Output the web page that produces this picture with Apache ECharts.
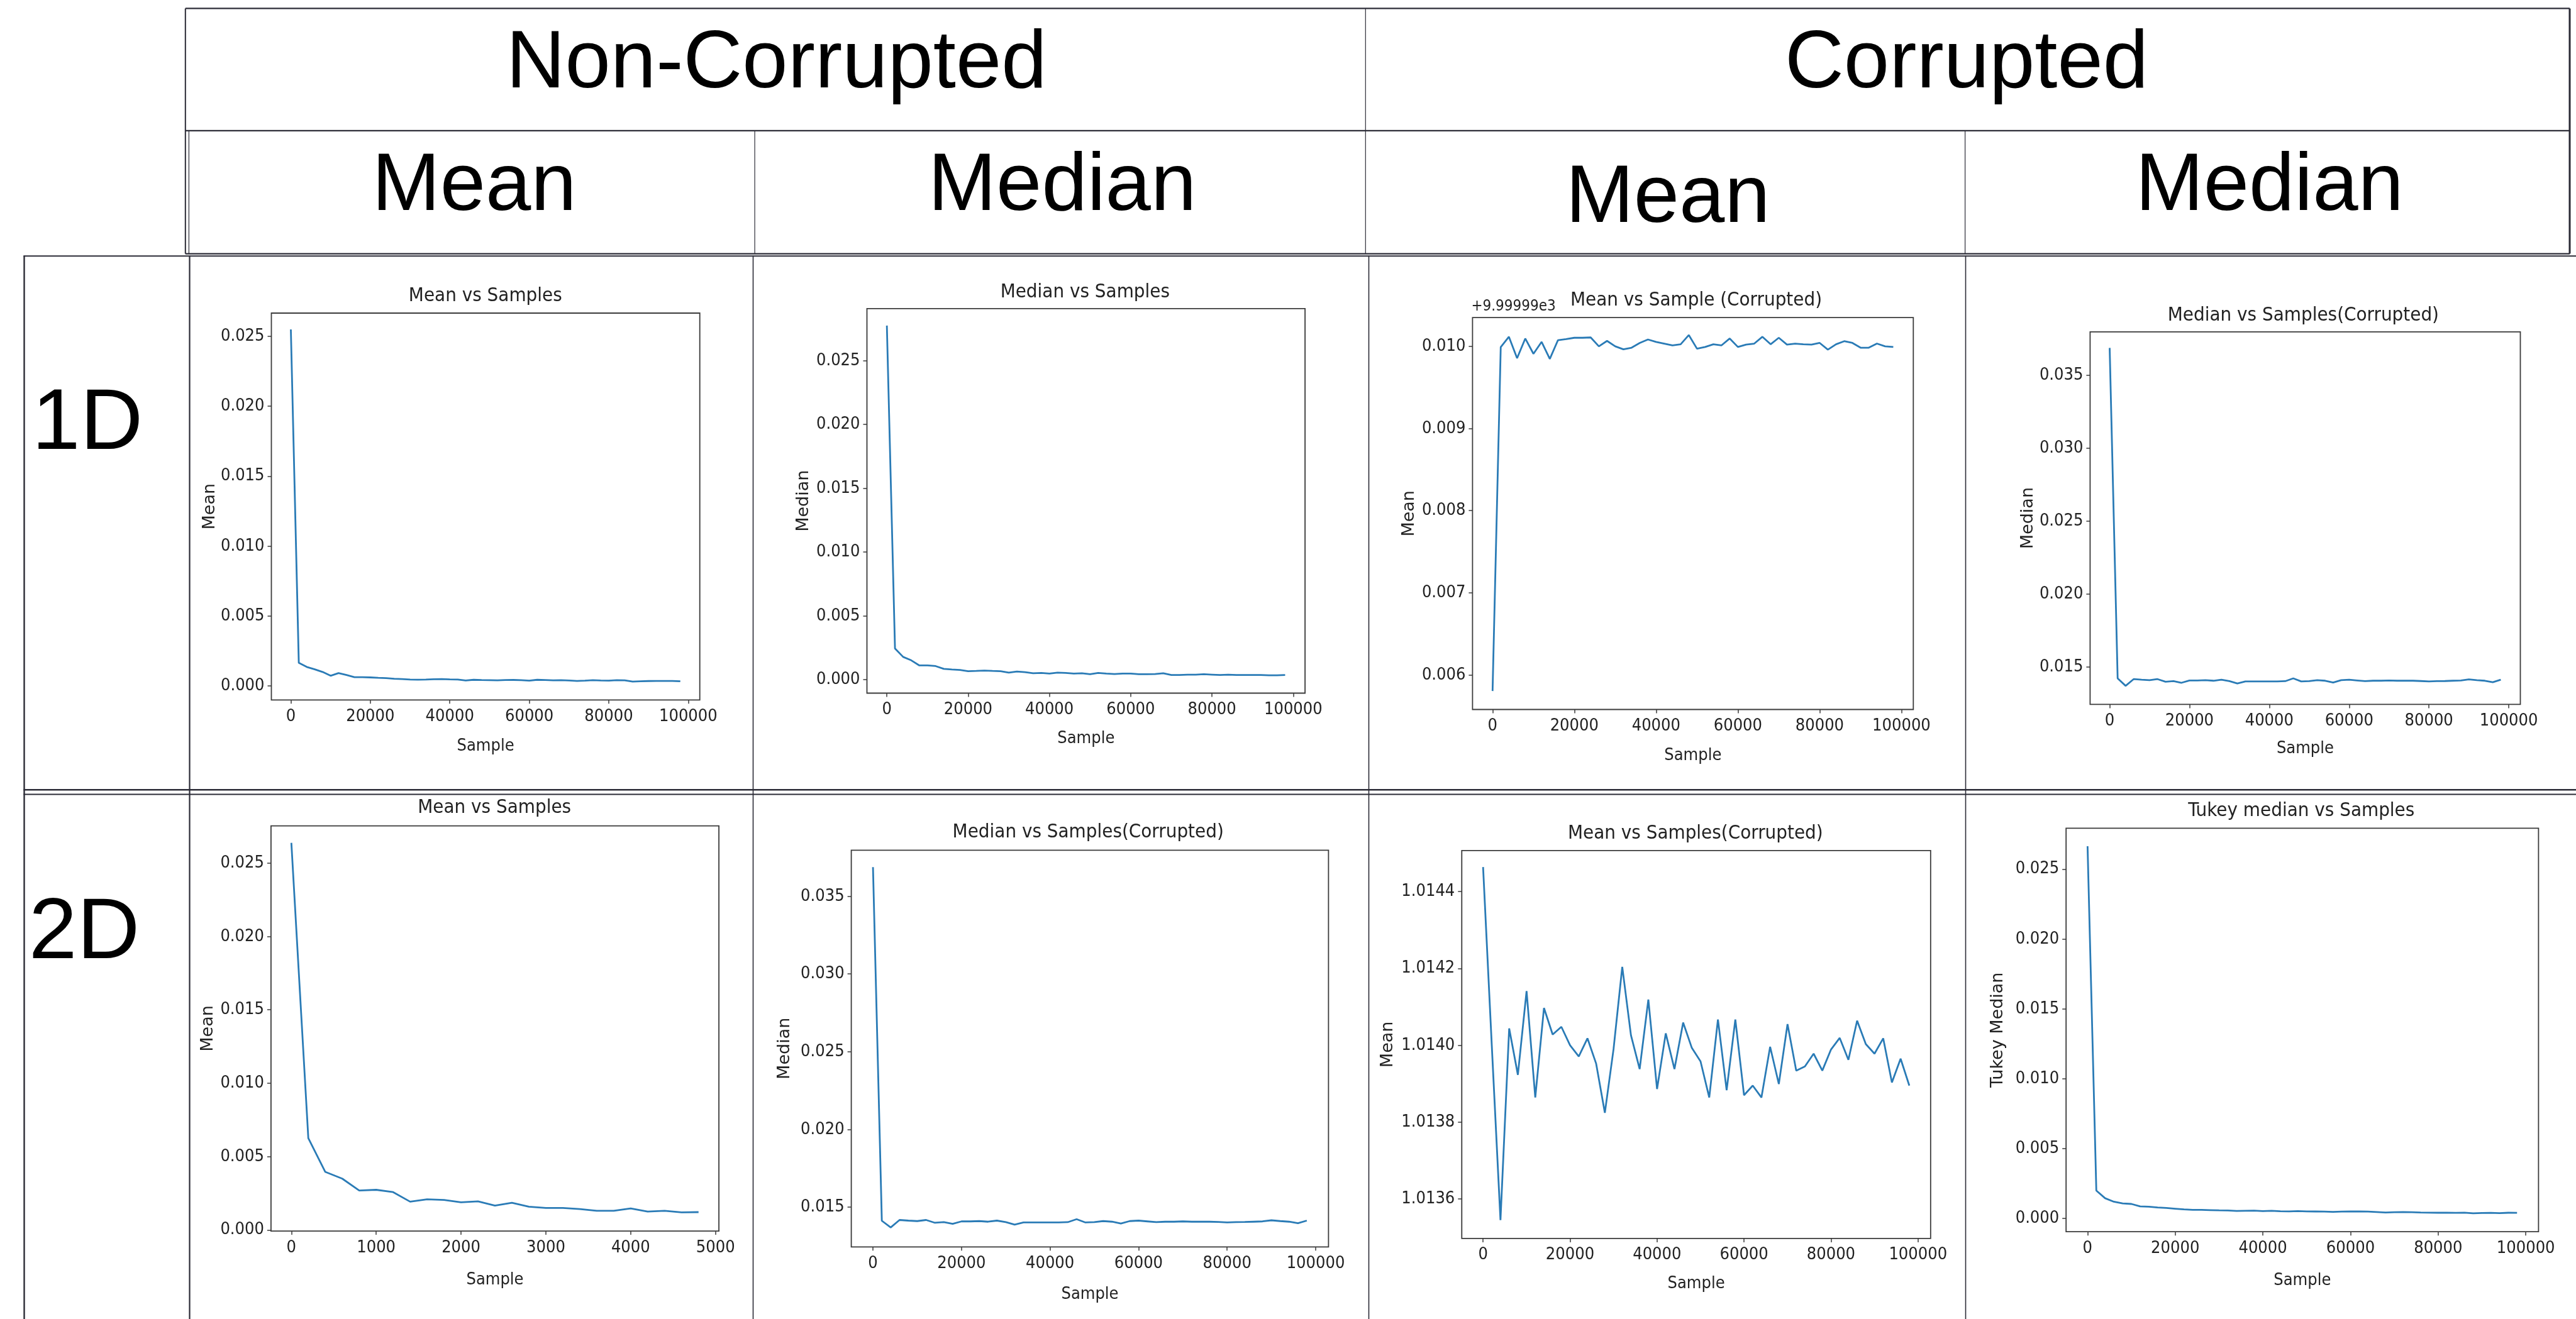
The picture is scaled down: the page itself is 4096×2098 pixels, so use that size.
<!DOCTYPE html>
<html>
<head>
<meta charset="utf-8">
<title>Mean / Median vs Samples</title>
<script src="https://cdn.jsdelivr.net/npm/echarts@6/dist/echarts.min.js"></script>
<style>
  html, body { margin: 0; padding: 0; background: #fff; }
  #chart { width: 4096px; height: 2098px; }
</style>
</head>
<body>
<div id="chart"></div>
<script>
// table headers
const groupLabels = ["Non-Corrupted", "Corrupted"];
const statLabels = ["Mean", "Median", "Mean", "Median"];
const rowLabels = ["1D", "2D"];

// x values (number of samples)
const samples100k = [0, 2000, 4000, 6000, 8000, 10000, 12000, 14000, 16000, 18000,
  20000, 22000, 24000, 26000, 28000, 30000, 32000, 34000, 36000, 38000,
  40000, 42000, 44000, 46000, 48000, 50000, 52000, 54000, 56000, 58000,
  60000, 62000, 64000, 66000, 68000, 70000, 72000, 74000, 76000, 78000,
  80000, 82000, 84000, 86000, 88000, 90000, 92000, 94000, 96000, 98000];
const samples5k = [0, 200, 400, 600, 800, 1000, 1200, 1400, 1600, 1800,
  2000, 2200, 2400, 2600, 2800, 3000, 3200, 3400, 3600, 3800,
  4000, 4200, 4400, 4600, 4800];

// tick labels
const xTicks100k = [0, 20000, 40000, 60000, 80000, 100000];
const xTicks5k = [0, 1000, 2000, 3000, 4000, 5000];
const yTicksSmall = [0, 0.005, 0.010, 0.015, 0.020, 0.025];
const yTicksCorrMedian = [0.015, 0.020, 0.025, 0.030, 0.035];
const yTicksCorrMean1d = [0.006, 0.007, 0.008, 0.009, 0.010];
const yTicksCorrMean2d = [1.0136, 1.0138, 1.0140, 1.0142, 1.0144];

// 1D, non-corrupted
const mean1d = [0.02549, 0.00165, 0.00136, 0.00119, 0.00100, 0.00073, 0.00092, 0.00078, 0.00063, 0.00063,
  0.00061, 0.00058, 0.00056, 0.00051, 0.00049, 0.00046, 0.00045, 0.00046, 0.00048, 0.00049,
  0.00047, 0.00046, 0.00039, 0.00044, 0.00042, 0.00041, 0.00040, 0.00042, 0.00043, 0.00041,
  0.00038, 0.00044, 0.00042, 0.00040, 0.00041, 0.00039, 0.00036, 0.00038, 0.00041, 0.00039,
  0.00038, 0.00041, 0.00040, 0.00031, 0.00033, 0.00035, 0.00036, 0.00036, 0.00036, 0.00033];
const median1d = [0.02775, 0.00245, 0.00179, 0.00152, 0.00112, 0.00112, 0.00107, 0.00085, 0.00080, 0.00077,
  0.00067, 0.00069, 0.00072, 0.00069, 0.00067, 0.00056, 0.00064, 0.00059, 0.00051, 0.00053,
  0.00048, 0.00056, 0.00053, 0.00048, 0.00051, 0.00043, 0.00053, 0.00048, 0.00045, 0.00048,
  0.00048, 0.00043, 0.00043, 0.00045, 0.00051, 0.00037, 0.00037, 0.00040, 0.00040, 0.00043,
  0.00040, 0.00037, 0.00040, 0.00037, 0.00037, 0.00037, 0.00037, 0.00035, 0.00035, 0.00037];

// 1D, corrupted (mean shown relative to the +9.99999e3 offset)
const meanCorr1d = [0.005805, 0.009990, 0.010116, 0.009855, 0.010095, 0.009909, 0.010054, 0.009847, 0.010075, 0.010087,
  0.010104, 0.010104, 0.010108, 0.010000, 0.010066, 0.010000, 0.009963, 0.009983, 0.010041, 0.010083,
  0.010054, 0.010033, 0.010012, 0.010025, 0.010137, 0.009971, 0.009992, 0.010025, 0.010012, 0.010095,
  0.009992, 0.010021, 0.010033, 0.010116, 0.010025, 0.010104, 0.010021, 0.010033, 0.010025, 0.010021,
  0.010041, 0.009959, 0.010025, 0.010062, 0.010041, 0.009983, 0.009983, 0.010033, 0.010000, 0.009992];
const medianCorr1d = [0.03686, 0.01423, 0.01372, 0.01418, 0.01414, 0.01411, 0.01418, 0.01400, 0.01404, 0.01393,
  0.01409, 0.01409, 0.01411, 0.01407, 0.01414, 0.01404, 0.01388, 0.01402, 0.01402, 0.01402,
  0.01402, 0.01402, 0.01404, 0.01423, 0.01402, 0.01404, 0.01411, 0.01407, 0.01395, 0.01411,
  0.01414, 0.01409, 0.01404, 0.01407, 0.01407, 0.01409, 0.01407, 0.01407, 0.01407, 0.01405,
  0.01402, 0.01404, 0.01405, 0.01407, 0.01409, 0.01416, 0.01411, 0.01407, 0.01397, 0.01414];

// 2D
const mean2d = [0.02638, 0.00626, 0.00396, 0.00350, 0.00269, 0.00274, 0.00258, 0.00193, 0.00209, 0.00205,
  0.00189, 0.00195, 0.00166, 0.00186, 0.00159, 0.00150, 0.00150, 0.00143, 0.00131, 0.00131,
  0.00147, 0.00126, 0.00131, 0.00120, 0.00122];
const medianCorr2d = [0.03687, 0.01413, 0.01370, 0.01418, 0.01414, 0.01411, 0.01418, 0.01400, 0.01404, 0.01393,
  0.01409, 0.01409, 0.01411, 0.01407, 0.01414, 0.01404, 0.01388, 0.01402, 0.01402, 0.01402,
  0.01402, 0.01402, 0.01404, 0.01423, 0.01402, 0.01404, 0.01411, 0.01407, 0.01395, 0.01411,
  0.01414, 0.01409, 0.01404, 0.01407, 0.01407, 0.01409, 0.01407, 0.01407, 0.01407, 0.01405,
  0.01402, 0.01404, 0.01405, 0.01407, 0.01409, 0.01416, 0.01411, 0.01407, 0.01397, 0.01414];
const meanCorr2d = [1.014464, 1.014000, 1.013545, 1.014044, 1.013923, 1.014141, 1.013864, 1.014097, 1.014028, 1.014048,
  1.014000, 1.013971, 1.014018, 1.013952, 1.013824, 1.013990, 1.014204, 1.014026, 1.013938, 1.014119,
  1.013886, 1.014031, 1.013938, 1.014059, 1.013993, 1.013958, 1.013864, 1.014067, 1.013883, 1.014067,
  1.013870, 1.013895, 1.013864, 1.013996, 1.013899, 1.014055, 1.013934, 1.013945, 1.013978, 1.013934,
  1.013989, 1.014019, 1.013962, 1.014064, 1.014003, 1.013978, 1.014018, 1.013903, 1.013965, 1.013895];
const tukey2d = [0.02664, 0.00198, 0.00143, 0.00118, 0.00106, 0.00102, 0.00085, 0.00082, 0.00077, 0.00073,
  0.00068, 0.00063, 0.00060, 0.00060, 0.00058, 0.00056, 0.00055, 0.00052, 0.00053, 0.00054,
  0.00051, 0.00053, 0.00050, 0.00049, 0.00051, 0.00049, 0.00048, 0.00047, 0.00045, 0.00047,
  0.00048, 0.00049, 0.00047, 0.00044, 0.00041, 0.00043, 0.00044, 0.00043, 0.00041, 0.00040,
  0.00039, 0.00040, 0.00038, 0.00040, 0.00035, 0.00037, 0.00038, 0.00036, 0.00039, 0.00038];

const FONT_NARROW = '"DejaVu Sans Condensed", "Liberation Sans Narrow", "DejaVu Sans", sans-serif';
const FONT_PLOT = '"DejaVu Sans", sans-serif';
const FONT_TABLE = '"Liberation Sans", Arial, sans-serif';
const LINE_COLOR = "#2a7bb6";
const INK = "#222";

// one small matplotlib-like plot per table cell
const panels = [
  { title: "Mean vs Samples", yName: "Mean", xs: samples100k, ys: mean1d, xTicks: xTicks100k, xMin: -4900, xMax: 102900,
    yTicks: yTicksSmall, yMin: -0.001, yMax: 0.02666, digits: 3,
    box: [431.5, 498.0, 1112.7, 1113.3], titlePos: [771.8, 471], yLabelX: 334, xLabelY: 1187 },
  { title: "Median vs Samples", yName: "Median", xs: samples100k, ys: median1d, xTicks: xTicks100k, xMin: -4900, xMax: 102900,
    yTicks: yTicksSmall, yMin: -0.00105, yMax: 0.02908, digits: 3,
    box: [1378.5, 490.9, 2075.1, 1102.5], titlePos: [1725.3, 464.5], yLabelX: 1278, xLabelY: 1174.5 },
  { title: "Mean vs Sample (Corrupted)", yName: "Mean", xs: samples100k, ys: meanCorr1d, xTicks: xTicks100k, xMin: -4900, xMax: 102900,
    yTicks: yTicksCorrMean1d, yMin: 0.00558, yMax: 0.01035, digits: 3, offsetText: "+9.99999e3",
    box: [2341.4, 505.1, 3042.3, 1128.5], titlePos: [2697, 478], yLabelX: 2241, xLabelY: 1201.5 },
  { title: "Median vs Samples(Corrupted)", yName: "Median", xs: samples100k, ys: medianCorr1d, xTicks: xTicks100k, xMin: -4900, xMax: 102900,
    yTicks: yTicksCorrMedian, yMin: 0.01245, yMax: 0.03796, digits: 3,
    box: [3323.4, 527.8, 4007.5, 1120.4], titlePos: [3662.4, 502.3], yLabelX: 3224.6, xLabelY: 1190.7 },
  { title: "Mean vs Samples", yName: "Mean", xs: samples5k, ys: mean2d, xTicks: xTicks5k, xMin: -240, xMax: 5040,
    yTicks: yTicksSmall, yMin: -0.00007, yMax: 0.02753, digits: 3,
    box: [430.9, 1313.7, 1143.1, 1958.1], titlePos: [786.2, 1285.2], yLabelX: 331.2, xLabelY: 2035.9 },
  { title: "Median vs Samples(Corrupted)", yName: "Median", xs: samples100k, ys: medianCorr2d, xTicks: xTicks100k, xMin: -4900, xMax: 102900,
    yTicks: yTicksCorrMedian, yMin: 0.01245, yMax: 0.03796, digits: 3,
    box: [1353.6, 1352.3, 2112.4, 1983.3], titlePos: [1730.2, 1324.4], yLabelX: 1247.8, xLabelY: 2058.5 },
  { title: "Mean vs Samples(Corrupted)", yName: "Mean", xs: samples100k, ys: meanCorr2d, xTicks: xTicks100k, xMin: -4900, xMax: 102900,
    yTicks: yTicksCorrMean2d, yMin: 1.013497, yMax: 1.014507, digits: 4,
    box: [2324.3, 1352.8, 3069.8, 1969.9], titlePos: [2695.8, 1326], yLabelX: 2207.4, xLabelY: 2042.4 },
  { title: "Tukey median vs Samples", yName: "Tukey Median", xs: samples100k, ys: tukey2d, xTicks: xTicks100k, xMin: -4900, xMax: 102900,
    yTicks: yTicksSmall, yMin: -0.00097, yMax: 0.02793, digits: 3,
    box: [3285.2, 1317.4, 4036.4, 1959.2], titlePos: [3659.3, 1289.5], yLabelX: 3176.6, xLabelY: 2037 },
];

const grids = [], xAxes = [], yAxes = [], series = [], graphics = [];

panels.forEach((p, i) => {
  const [l, t, r, b] = p.box;
  grids.push({
    left: l, top: t, width: r - l, height: b - t,
    show: true, borderColor: "#3a3a3a", borderWidth: 1.8, containLabel: false,
  });
  xAxes.push({
    type: "value", gridIndex: i, min: p.xMin, max: p.xMax,
    axisLine: { show: false, onZero: false },
    axisTick: { show: true, inside: false, length: 6, customValues: p.xTicks, lineStyle: { color: "#3a3a3a", width: 1.5 } },
    axisLabel: { customValues: p.xTicks, margin: 13, color: INK, fontSize: 27, fontFamily: FONT_NARROW,
      formatter: (v) => String(Math.round(v)) },
    splitLine: { show: false },
  });
  yAxes.push({
    type: "value", gridIndex: i, min: p.yMin, max: p.yMax,
    axisLine: { show: false, onZero: false },
    axisTick: { show: true, inside: false, length: 6, customValues: p.yTicks, lineStyle: { color: "#3a3a3a", width: 1.5 } },
    axisLabel: { customValues: p.yTicks, margin: 11, color: INK, fontSize: 27, fontFamily: FONT_NARROW,
      formatter: (v) => v.toFixed(p.digits) },
    splitLine: { show: false },
  });
  series.push({
    type: "line", xAxisIndex: i, yAxisIndex: i,
    data: p.xs.map((x, k) => [x, p.ys[k]]),
    showSymbol: false, smooth: false,
    lineStyle: { color: LINE_COLOR, width: 2.8 },
    animation: false,
  });
  // title, axis names
  graphics.push({
    type: "text", x: p.titlePos[0], y: p.titlePos[1],
    style: { text: p.title, fill: INK, fontSize: 31, fontFamily: FONT_NARROW, align: "center", verticalAlign: "middle" },
  });
  graphics.push({
    type: "text", x: (l + r) / 2, y: p.xLabelY,
    style: { text: "Sample", fill: INK, fontSize: 27, fontFamily: FONT_NARROW, align: "center", verticalAlign: "middle" },
  });
  graphics.push({
    type: "text", x: p.yLabelX, y: (t + b) / 2, rotation: Math.PI / 2,
    style: { text: p.yName, fill: INK, fontSize: 27, fontFamily: FONT_PLOT, align: "center", verticalAlign: "middle" },
  });
  if (p.offsetText) {
    graphics.push({
      type: "text", x: l - 2, y: t - 17,
      style: { text: p.offsetText, fill: INK, fontSize: 24, fontFamily: FONT_NARROW, align: "left", verticalAlign: "middle" },
    });
  }
});

// table frame
const TABLE_INK = "#2b2b36";
const hLine = (y, x1, x2, w) => ({ type: "line", shape: { x1, y1: y, x2, y2: y }, style: { stroke: TABLE_INK, lineWidth: w }, silent: true });
const vLine = (x, y1, y2, w) => ({ type: "line", shape: { x1: x, y1, x2: x, y2 }, style: { stroke: TABLE_INK, lineWidth: w }, silent: true });

graphics.push(
  hLine(13.4, 294.8, 4086, 2.4),
  hLine(207.9, 294.8, 4086, 2.4),
  hLine(403.6, 294.8, 4086, 2.4),
  vLine(294.8, 13.4, 403.6, 2),
  vLine(4086, 13.4, 403.6, 3),
  vLine(2171.3, 13.4, 207.9, 1.2),
  vLine(300.4, 207.9, 403.6, 1.2),
  vLine(1200.1, 207.9, 403.6, 1.2),
  vLine(2171.3, 207.9, 403.6, 1.2),
  vLine(3124.6, 207.9, 403.6, 1.2),
  hLine(407.3, 37.4, 4096, 2),
  hLine(1256.2, 37.4, 4096, 2.4),
  hLine(1263.5, 37.4, 4096, 2),
  vLine(38.5, 406.8, 2098, 2.4),
  vLine(301.5, 406.8, 2098, 2.2),
  vLine(1197.5, 406.8, 2098, 1.6),
  vLine(2176.5, 406.8, 2098, 1.6),
  vLine(3125.5, 406.8, 2098, 1.6)
);

// header texts
const headerText = (text, x, y, size) => ({
  type: "text", x, y,
  style: { text, fill: "#000", fontSize: size, fontFamily: FONT_TABLE, align: "center", verticalAlign: "middle" },
});
graphics.push(
  headerText(groupLabels[0], 1234.6, 103, 130),
  headerText(groupLabels[1], 3127, 103, 130),
  headerText(statLabels[0], 754, 298, 130),
  headerText(statLabels[1], 1689, 298, 130),
  headerText(statLabels[2], 2652, 317, 130),
  headerText(statLabels[3], 3608.6, 298, 130),
  headerText(rowLabels[0], 139, 676, 138),
  headerText(rowLabels[1], 134, 1486, 138)
);

const chart = echarts.init(document.getElementById("chart"));
chart.setOption({
  animation: false,
  backgroundColor: "#fff",
  grid: grids,
  xAxis: xAxes,
  yAxis: yAxes,
  series: series,
  graphic: graphics,
});
</script>
</body>
</html>
